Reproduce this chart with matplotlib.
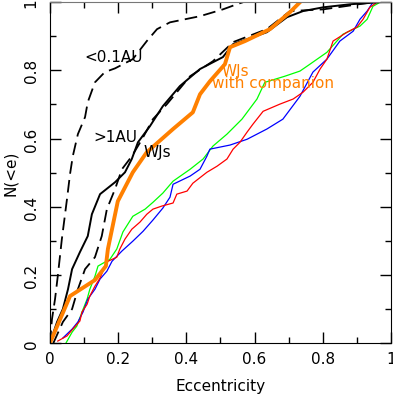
import numpy as np
import matplotlib
matplotlib.use("Agg")
import matplotlib.pyplot as plt
from matplotlib.ticker import MultipleLocator, FuncFormatter

# --- Data: cumulative distributions N(<e) ---
# all warm Jupiters (black solid)
wjs_e = [0, 0.021, 0.038, 0.053, 0.065, 0.088, 0.111, 0.123, 0.147, 0.191, 0.220, 0.240,
         0.258, 0.293, 0.331, 0.381, 0.440, 0.507, 0.537, 0.636, 0.695, 0.742, 0.801, 0.880, 0.968]
wjs_n = [0, 0.062, 0.100, 0.158, 0.217, 0.267, 0.314, 0.378, 0.437, 0.472, 0.501, 0.540,
         0.589, 0.636, 0.695, 0.754, 0.804, 0.839, 0.877, 0.912, 0.956, 0.974, 0.985, 0.994, 1.0]

# giants beyond 1 AU (black dashed)
far_e = [0.01, 0.038, 0.065, 0.082, 0.103, 0.132, 0.152, 0.167, 0.191, 0.211, 0.240, 0.270,
         0.302, 0.343, 0.411, 0.478, 0.537, 0.636, 0.704, 0.801, 0.947]
far_n = [0, 0.062, 0.100, 0.158, 0.217, 0.252, 0.314, 0.393, 0.452, 0.510, 0.548, 0.598,
         0.657, 0.701, 0.783, 0.827, 0.883, 0.921, 0.974, 0.979, 1.0]

# hot Jupiters inside 0.1 AU (black dashed)
hot_e = [0, 0.006, 0.015, 0.023, 0.035, 0.050, 0.059, 0.067, 0.082, 0.103, 0.111, 0.132,
         0.161, 0.191, 0.243, 0.284, 0.314, 0.352, 0.440, 0.507, 0.548, 0.566]
hot_n = [0, 0.070, 0.129, 0.196, 0.305, 0.422, 0.496, 0.548, 0.613, 0.663, 0.707, 0.765,
         0.795, 0.806, 0.833, 0.886, 0.921, 0.941, 0.959, 0.979, 0.994, 1.0]

# warm Jupiters with companion (orange)
comp_e = [0, 0.059, 0.132, 0.164, 0.170, 0.199, 0.243, 0.284, 0.361, 0.419, 0.440, 0.469,
          0.513, 0.528, 0.572, 0.645, 0.704, 0.733]
comp_n = [0, 0.138, 0.185, 0.226, 0.276, 0.416, 0.501, 0.560, 0.628, 0.677, 0.730, 0.768,
          0.818, 0.868, 0.886, 0.921, 0.971, 1.0]

# simulated distributions (green, blue, red)
green_e = [0.047, 0.065, 0.079, 0.094, 0.109, 0.117, 0.132, 0.141, 0.176, 0.196, 0.214, 0.243,
           0.279, 0.302, 0.331, 0.361, 0.411, 0.449, 0.478, 0.519, 0.563, 0.607, 0.630, 0.689,
           0.733, 0.762, 0.812, 0.859, 0.909, 0.930, 0.947, 0.968]
green_n = [0, 0.032, 0.050, 0.091, 0.129, 0.158, 0.196, 0.226, 0.246, 0.276, 0.326, 0.372,
           0.393, 0.413, 0.440, 0.475, 0.510, 0.540, 0.578, 0.613, 0.657, 0.716, 0.765, 0.783,
           0.798, 0.818, 0.853, 0.906, 0.930, 0.950, 0.988, 1.0]

blue_e = [0.038, 0.065, 0.082, 0.097, 0.111, 0.132, 0.147, 0.167, 0.182, 0.211, 0.243, 0.273,
          0.302, 0.331, 0.352, 0.361, 0.411, 0.440, 0.460, 0.469, 0.528, 0.578, 0.636, 0.683,
          0.733, 0.771, 0.812, 0.850, 0.889, 0.909, 0.930, 0.947]
blue_n = [0.015, 0.041, 0.062, 0.091, 0.129, 0.158, 0.188, 0.211, 0.240, 0.270, 0.299, 0.328,
          0.361, 0.396, 0.428, 0.466, 0.490, 0.510, 0.548, 0.569, 0.581, 0.598, 0.628, 0.657,
          0.724, 0.795, 0.833, 0.886, 0.915, 0.950, 0.974, 1.0]

red_e = [0.023, 0.050, 0.067, 0.088, 0.094, 0.109, 0.117, 0.132, 0.147, 0.158, 0.170, 0.196,
         0.205, 0.220, 0.240, 0.264, 0.284, 0.302, 0.328, 0.361, 0.372, 0.402, 0.419, 0.460,
         0.490, 0.519, 0.537, 0.557, 0.578, 0.595, 0.625, 0.674, 0.713, 0.742, 0.771, 0.792,
         0.812, 0.830, 0.871, 0.900, 0.918, 0.938, 0.959]
red_n = [0.006, 0.021, 0.041, 0.065, 0.091, 0.114, 0.138, 0.167, 0.191, 0.217, 0.240, 0.252,
         0.276, 0.305, 0.334, 0.355, 0.378, 0.393, 0.402, 0.411, 0.437, 0.446, 0.469, 0.501,
         0.519, 0.540, 0.569, 0.589, 0.619, 0.642, 0.680, 0.701, 0.716, 0.736, 0.765, 0.804,
         0.833, 0.886, 0.912, 0.927, 0.950, 0.985, 1.0]

orange = "#ff8000"

# --- Plot ---
fig = plt.figure(figsize=(3.93, 4.02), dpi=100)
ax = fig.add_axes([0.127, 0.144, 0.868, 0.848])

ax.plot(green_e, green_n, color="#00ff00", lw=0.9)
ax.plot(blue_e, blue_n, color="#0000ff", lw=0.9)
ax.plot(red_e, red_n, color="#ff0000", lw=0.9)
ax.plot(hot_e, hot_n, color="black", lw=1.3, dashes=(7, 3.5))
ax.plot(far_e, far_n, color="black", lw=1.3, dashes=(7, 3.5))
ax.plot(wjs_e, wjs_n, color="black", lw=1.4)
ax.plot(comp_e, comp_n, color=orange, lw=2.8)

ax.text(0.10, 0.842, "<0.1AU", fontsize=11, va="center")
ax.text(0.126, 0.607, ">1AU", fontsize=11, va="center")
ax.text(0.273, 0.563, "WJs", fontsize=11, va="center")
ax.text(0.504, 0.800, "WJs", fontsize=11, va="center", color=orange)
ax.text(0.475, 0.765, "with companion", fontsize=11, va="center", color=orange)

ax.set_xlim(0, 1)
ax.set_ylim(0, 1)
fmt = FuncFormatter(lambda v, p: "%g" % round(v, 2))
for axis in (ax.xaxis, ax.yaxis):
    axis.set_major_locator(MultipleLocator(0.2))
    axis.set_minor_locator(MultipleLocator(0.1))
    axis.set_major_formatter(fmt)
ax.tick_params(which="both", direction="in", top=True, right=True, labelsize=11)
ax.tick_params(which="major", length=8, width=1)
ax.tick_params(which="minor", length=4, width=1)
for lab in ax.get_yticklabels():
    lab.set_rotation(90)
    lab.set_va("center")
ax.tick_params(axis="x", pad=6)
ax.tick_params(axis="y", pad=8)
ax.spines["top"].set_color("#777777")

ax.set_xlabel("Eccentricity", fontsize=11, labelpad=8)
ax.set_ylabel("N(<e)", fontsize=11, labelpad=4)

fig.savefig("out.png", dpi=100)
